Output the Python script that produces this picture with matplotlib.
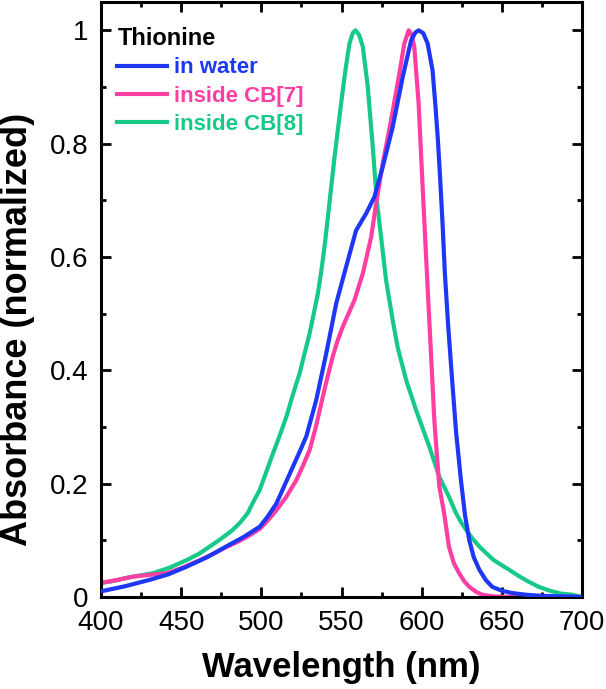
import matplotlib
matplotlib.use("Agg")
import matplotlib.pyplot as plt
from matplotlib.ticker import MultipleLocator, FixedLocator

plt.rcParams["font.family"] = ["Liberation Sans", "DejaVu Sans"]

# series colours
c_water = "#1e37f5"
c_cb7 = "#ff3ea3"
c_cb8 = "#17c987"

# Thionine in water
wl_water = [400, 415, 430, 442, 453, 466, 478, 489, 499, 504, 509.4, 514,
            519.7, 524, 528, 534.2, 540.5, 546.7, 552.9, 559.1, 565.4, 570.5,
            575.7, 581.9, 588.2, 593.4, 596, 598.1, 601, 603.7, 606.8, 608.5,
            610, 611.5, 613, 614.5, 616.5, 619, 621.5, 624.5, 627, 629.7,
            632.5, 636, 640, 644, 650, 656.4, 665, 675, 690, 700]
ab_water = [0.010, 0.019, 0.030, 0.040, 0.053, 0.070, 0.089, 0.106, 0.124,
            0.142, 0.165, 0.194, 0.230, 0.257, 0.283, 0.347, 0.430, 0.518,
            0.583, 0.647, 0.677, 0.706, 0.759, 0.829, 0.918, 0.982, 0.996,
            1.000, 0.995, 0.977, 0.929, 0.870, 0.812, 0.740, 0.660, 0.570,
            0.480, 0.383, 0.290, 0.206, 0.145, 0.100, 0.070, 0.048, 0.030,
            0.018, 0.011, 0.007, 0.004, 0.002, 0.001, 0.0]

# Thionine inside CB[7]
wl_cb7 = [400, 410, 420, 430, 441, 451, 461.6, 470, 478, 485, 491, 499, 504,
          509.4, 515.6, 521.8, 526, 530.1, 534, 537.4, 541, 544.6, 547.5,
          550.8, 558.1, 563.3, 568.5, 571.6, 575.7, 580.9, 586.1, 589.2,
          591.9, 593.6, 595.4, 598.1, 600.6, 603.7, 605.8, 607.9, 609.5, 611,
          614, 617, 620, 623.4, 626.5, 629.7, 634, 637.8, 645, 660, 700]
ab_cb7 = [0.025, 0.030, 0.036, 0.039, 0.042, 0.052, 0.065, 0.076, 0.088, 0.097,
          0.106, 0.120, 0.135, 0.153, 0.177, 0.206, 0.232, 0.259, 0.300,
          0.342, 0.385, 0.425, 0.452, 0.477, 0.524, 0.571, 0.635, 0.694,
          0.765, 0.841, 0.924, 0.977, 1.000, 0.993, 0.971, 0.871, 0.724,
          0.547, 0.430, 0.312, 0.250, 0.195, 0.148, 0.089, 0.060, 0.042,
          0.028, 0.018, 0.009, 0.004, 0.001, 0.0, 0.0]

# Thionine inside CB[8]
wl_cb8 = [400, 405.6, 418, 432.5, 443, 453.3, 461, 467.8, 475, 482, 487, 491.5,
          495, 499, 503, 507.2, 511.5, 515.6, 520, 523.9, 527, 530.1, 532.7,
          535.3, 537.4, 539.4, 541.5, 543.6, 545.6, 547.7, 549.8, 551.9,
          553.5, 555, 557, 558.7, 561, 563.3, 566.4, 569.5, 572, 574.7, 577.8,
          581.9, 585, 590.3, 596.5, 604.8, 611, 617, 621.4, 625, 628.6, 632,
          636, 640, 645, 650, 654.6, 660, 666, 673, 680, 687, 693.8, 700]
ab_cb8 = [0.025, 0.027, 0.035, 0.042, 0.052, 0.065, 0.076, 0.089, 0.103, 0.118,
          0.132, 0.148, 0.168, 0.189, 0.220, 0.253, 0.285, 0.318, 0.360,
          0.395, 0.430, 0.465, 0.500, 0.536, 0.575, 0.618, 0.670, 0.724,
          0.775, 0.824, 0.872, 0.918, 0.950, 0.977, 0.995, 1.000, 0.992,
          0.971, 0.900, 0.794, 0.700, 0.635, 0.559, 0.489, 0.441, 0.383,
          0.330, 0.265, 0.212, 0.177, 0.148, 0.130, 0.115, 0.102, 0.089,
          0.078, 0.065, 0.056, 0.048, 0.038, 0.028, 0.018, 0.011, 0.006,
          0.004, 0.0]

labels = ["in water", "inside CB[7]", "inside CB[8]"]
ytick_vals = [0, 0.2, 0.4, 0.6, 0.8, 1.0]
ytick_text = ["0", "0.2", "0.4", "0.6", "0.8", "1"]

fig = plt.figure(figsize=(6.06, 6.89), dpi=100)
ax = fig.add_axes([101 / 606, 1 - 597 / 689, 481 / 606, 595 / 689])

ax.plot(wl_water, ab_water, color=c_water, lw=3, label=labels[0], zorder=3)
ax.plot(wl_cb7, ab_cb7, color=c_cb7, lw=3, label=labels[1], zorder=2)
ax.plot(wl_cb8, ab_cb8, color=c_cb8, lw=3, label=labels[2], zorder=1)

ax.set_xlim(400, 700)
ax.set_ylim(0, 1.05)
ax.xaxis.set_major_locator(MultipleLocator(50))
ax.xaxis.set_minor_locator(MultipleLocator(25))
ax.yaxis.set_major_locator(FixedLocator(ytick_vals))
ax.set_yticklabels(ytick_text)
ax.yaxis.set_minor_locator(MultipleLocator(0.1))

ax.tick_params(which="both", direction="in", top=True, right=True,
               width=2, labelsize=20)
ax.tick_params(which="major", length=7)
ax.tick_params(which="minor", length=3.5)
ax.tick_params(axis="x", which="major", pad=9.5)
ax.tick_params(axis="y", which="major", pad=9)
for sp in ax.spines.values():
    sp.set_linewidth(2.2)

ax.set_xlabel("Wavelength (nm)", fontsize=25, fontweight="bold", labelpad=11)
ax.set_ylabel("Absorbance (normalized)", fontsize=26, fontweight="bold")
ax.yaxis.set_label_coords(-0.137, 0.45)

leg = ax.legend(loc="upper left", bbox_to_anchor=(0.034, 0.958), frameon=False,
                prop={"weight": "bold", "size": 16}, title="Thionine",
                title_fontproperties={"weight": "bold", "size": 17},
                handlelength=2.25, handletextpad=0.3, labelspacing=0.33,
                borderpad=0, borderaxespad=0, labelcolor="linecolor")
leg._legend_box.align = "left"

fig.savefig("out.png", dpi=100)
